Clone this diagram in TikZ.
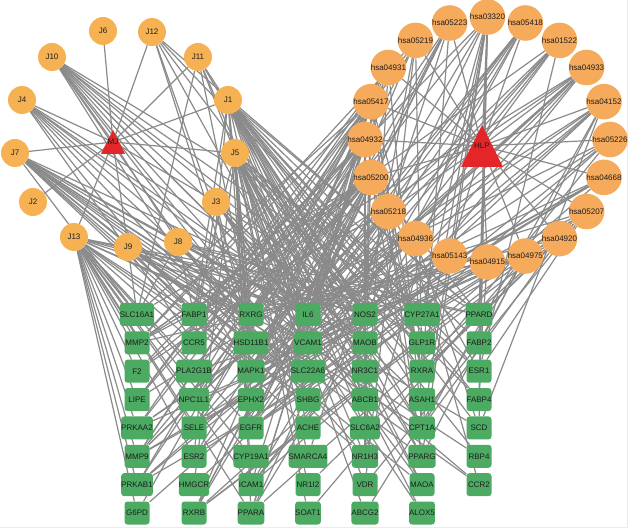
\documentclass[tikz,border=0pt]{standalone}
\usepackage{fontspec}
\setmainfont{Liberation Sans}
\usetikzlibrary{backgrounds}
\definecolor{jcol}{RGB}{246,178,82}
\definecolor{hcol}{RGB}{246,170,92}
\definecolor{gcol}{RGB}{76,170,98}
\definecolor{rcol}{RGB}{228,38,40}
\definecolor{ecol}{RGB}{138,138,138}
\definecolor{tcol}{RGB}{30,30,30}
\begin{document}
\begin{tikzpicture}[x=1pt,y=-1pt,
 jnode/.style={circle,fill=jcol,minimum size=28pt,inner sep=0pt,font=\fontsize{8}{9}\selectfont,text=tcol},
 hnode/.style={circle,fill=hcol,minimum size=35pt,inner sep=0pt,font=\fontsize{8}{9}\selectfont,text=tcol},
 gene/.style={rectangle,rounded corners=3pt,fill=gcol,minimum width=25pt,minimum height=23pt,inner sep=0pt,font=\fontsize{8}{9}\selectfont,text=tcol},
 hub/.style={inner sep=0pt,font=\fontsize{8}{9}\selectfont,text=tcol},
 edge/.style={draw=ecol,line width=1.2pt}]
\useasboundingbox (0,0) rectangle (630,529);
% target genes
\foreach \col [count=\c from 0] in {
 {SLC16A1,MMP2,F2,LIPE,PRKAA2,MMP9,PRKAB1,G6PD},
 {FABP1,CCR5,PLA2G1B,NPC1L1,SELE,ESR2,HMGCR,RXRB},
 {RXRG,HSD11B1,MAPK1,EPHX2,EGFR,CYP19A1,ICAM1,PPARA},
 {IL6,VCAM1,SLC22A6,SHBG,ACHE,SMARCA4,NR1I2,SOAT1},
 {NOS2,MAOB,NR3C1,ABCB1,SLC6A2,NR1H3,VDR,ABCG2},
 {CYP27A1,GLP1R,RXRA,ASAH1,CPT1A,PPARG,MAOA,ALOX5},
 {PPARD,FABP2,ESR1,FABP4,SCD,RBP4,CCR2}}
 \foreach \g [count=\r from 0] in \col
  \node[gene] (\g) at ({137+57*\c},{314.5+28.36*\r}) {\g};
% pathways
\foreach \h [count=\k from 0] in {03320,05223,05219,04931,05417,04932,05200,05218,04936,05143,04915,04975,04920,05207,04668,05226,04152,04933,01522,05418}
 \node[hnode] (h\h) at ({487.5+122.5*cos(90+18*\k)},{139.5-122.5*sin(90+18*\k)}) {hsa\h};
% compounds
\foreach \n/\x/\y in {J6/103/31,J12/152/32,J10/52/57,J11/198/57,J4/22/100,J1/228/100,J7/15/153,J5/235/153,J2/33/202,J3/216/202,J13/74/237,J9/128/247,J8/178/242}
 \node[jnode] (\n) at (\x,\y) {\n};
% hubs
\fill[rcol] (101,154) -- (125,154) -- (113,130) -- cycle;
\node[hub] (MJ) at (113,142) {MJ};
\fill[rcol] (461,167) -- (503,167) -- (482,125) -- cycle;
\node[hub] (HLP) at (482,146) {HLP};
\begin{pgfonlayer}{background}
\draw[black!8,line width=0.8pt] (627,0) -- (627,527) -- (0,527);
\foreach \n in {J6,J12,J10,J11,J4,J1,J7,J5,J2,J3,J13,J9,J8}
 \draw[edge] (MJ.center) -- (\n);
\foreach \h in {03320,05223,05219,04931,05417,04932,05200,05218,04936,05143,04915,04975,04920,05207,04668,05226,04152,04933,01522,05418}
 \draw[edge] (HLP.center) -- (h\h);
% compound-target edges
\foreach \t in {RXRG,HSD11B1,IL6,VCAM1,NOS2,MAOB,CYP27A1,GLP1R,PPARD,FABP2,ESR1,RXRA,PPARG,NR3C1,ABCB1,SLC6A2,SMARCA4,EGFR,ESR2,FABP1,MAOA,CPT1A,ASAH1,FABP4,SCD}
 \draw[edge] (J1) -- (\t);
\foreach \t in {FABP1,RXRG,MAPK1,IL6,SLC22A6,NOS2,NR3C1,CYP27A1,RXRA,PPARG,MAOA,CPT1A,ESR1,FABP4,ACHE,EPHX2,ICAM1,NR1H3,PPARA,VDR,ALOX5,ABCG2,NR1I2,SOAT1,HMGCR,RBP4}
 \draw[edge] (J5) -- (\t);
\foreach \t in {CCR5,HSD11B1,IL6,VCAM1,MAOB,ABCB1,GLP1R,ASAH1,EGFR,MAOA,ALOX5}
 \draw[edge] (J3) -- (\t);
\foreach \t in {SLC16A1,FABP1,RXRG,IL6,NOS2,MAOB,CYP27A1,PPARD,SHBG,NR1H3}
 \draw[edge] (J8) -- (\t);
\foreach \t in {SLC16A1,FABP1,RXRG,HSD11B1,IL6,MAPK1,NOS2,SLC22A6,CPT1A}
 \draw[edge] (J9) -- (\t);
\foreach \t in {SLC16A1,MMP2,F2,LIPE,PRKAA2,MMP9,PRKAB1,G6PD,FABP1,CCR5,PLA2G1B,NPC1L1,SELE,RXRG,IL6,NOS2,CYP27A1,VCAM1,MAPK1,PPARD,EGFR,ESR2,ICAM1,PPARA,SHBG,CYP19A1}
 \draw[edge] (J13) -- (\t);
\foreach \t in {SLC16A1,FABP1,RXRG,IL6,NOS2,VCAM1,HSD11B1,MAOB,SCD,RBP4,PPARG,ACHE,MAOA,CCR2,NR1H3}
 \draw[edge] (J7) -- (\t);
\foreach \t in {FABP1,RXRG,IL6,HSD11B1,CCR5,NOS2,MAOB,CCR2}
 \draw[edge] (J4) -- (\t);
\foreach \t in {RXRG,IL6,NOS2,HSD11B1,VCAM1,MAOB,CYP27A1,GLP1R,MAPK1,SLC22A6,PPARD,NR3C1}
 \draw[edge] (J10) -- (\t);
\foreach \t in {RXRG,IL6,NOS2,HSD11B1,PPARD,CYP27A1}
 \draw[edge] (J12) -- (\t);
\foreach \t in {RXRG,IL6,NOS2,VCAM1,SLC16A1,MAOB}
 \draw[edge] (J11) -- (\t);
% pathway-target edges
\foreach \t in {FABP1,FABP2,FABP4,PPARA,PPARD,PPARG,RXRA,RXRB,RXRG,CPT1A,SCD,NR1H3,CYP27A1}
 \draw[edge] (h03320) -- (\t);
\foreach \t in {EGFR,MAPK1,RXRA,RXRB,RXRG,SMARCA4,IL6}
 \draw[edge] (h05223) -- (\t);
\foreach \t in {EGFR,MAPK1,MMP2,MMP9,RXRA,NOS2,VDR}
 \draw[edge] (h05219) -- (\t);
\foreach \t in {PRKAA2,PRKAB1,IL6,MAPK1,PPARA,CPT1A,G6PD,NR1H3,LIPE}
 \draw[edge] (h04931) -- (\t);
\foreach \t in {IL6,VCAM1,ICAM1,SELE,MAPK1,MMP2,F2,NOS2}
 \draw[edge] (h04933) -- (\t);
\foreach \t in {IL6,VCAM1,ICAM1,SELE,MAPK1,PPARG,RXRA,RXRB,RXRG,NR1H3,CCR2,CCR5,MMP9,NOS2,MMP2,SLC16A1,LIPE}
 \draw[edge] (h05417) -- (\t);
\foreach \t in {PRKAA2,PRKAB1,SCD,HMGCR,CPT1A,PPARG,LIPE,G6PD}
 \draw[edge] (h04152) -- (\t);
\foreach \t in {IL6,PRKAA2,PRKAB1,RXRA,PPARA,MAPK1,NR1H3,LIPE,F2,SELE}
 \draw[edge] (h04932) -- (\t);
\foreach \t in {EGFR,MAPK1,RXRA,RXRB,RXRG}
 \draw[edge] (h05226) -- (\t);
\foreach \t in {EGFR,MAPK1,RXRA,RXRB,RXRG,PPARG,PPARD,MMP2,MMP9,IL6,F2,ESR1,ESR2,NOS2,SLC16A1,FABP1,CCR5,PLA2G1B,NPC1L1}
 \draw[edge] (h05200) -- (\t);
\foreach \t in {IL6,VCAM1,ICAM1,SELE,MAPK1,MMP9}
 \draw[edge] (h04668) -- (\t);
\foreach \t in {EGFR,MAPK1,RXRA,IL6,MMP2,MMP9,FABP1}
 \draw[edge] (h05218) -- (\t);
\foreach \t in {EGFR,MAPK1,RXRA,RXRB,RXRG,ESR1,NR1I2,VDR,CYP27A1}
 \draw[edge] (h05207) -- (\t);
\foreach \t in {IL6,PRKAA2,PRKAB1,PPARA,SCD,CPT1A,MAPK1}
 \draw[edge] (h04936) -- (\t);
\foreach \t in {PRKAA2,PRKAB1,RXRA,RXRB,RXRG,PPARA,CPT1A}
 \draw[edge] (h04920) -- (\t);
\foreach \t in {IL6,ICAM1,VCAM1,SELE}
 \draw[edge] (h05143) -- (\t);
\foreach \t in {FABP1,FABP2,NPC1L1,PLA2G1B,SOAT1,ABCG2}
 \draw[edge] (h04975) -- (\t);
\foreach \t in {ESR1,ESR2,EGFR,MAPK1,MMP2,MMP9}
 \draw[edge] (h04915) -- (\t);
\foreach \t in {VCAM1,ICAM1,SELE,NOS2,MAPK1,IL6}
 \draw[edge] (h05418) -- (\t);
\foreach \t in {ESR1,ESR2,EGFR,MAPK1,MMP2,MMP9}
 \draw[edge] (h01522) -- (\t);
\end{pgfonlayer}
\end{tikzpicture}
\end{document}
